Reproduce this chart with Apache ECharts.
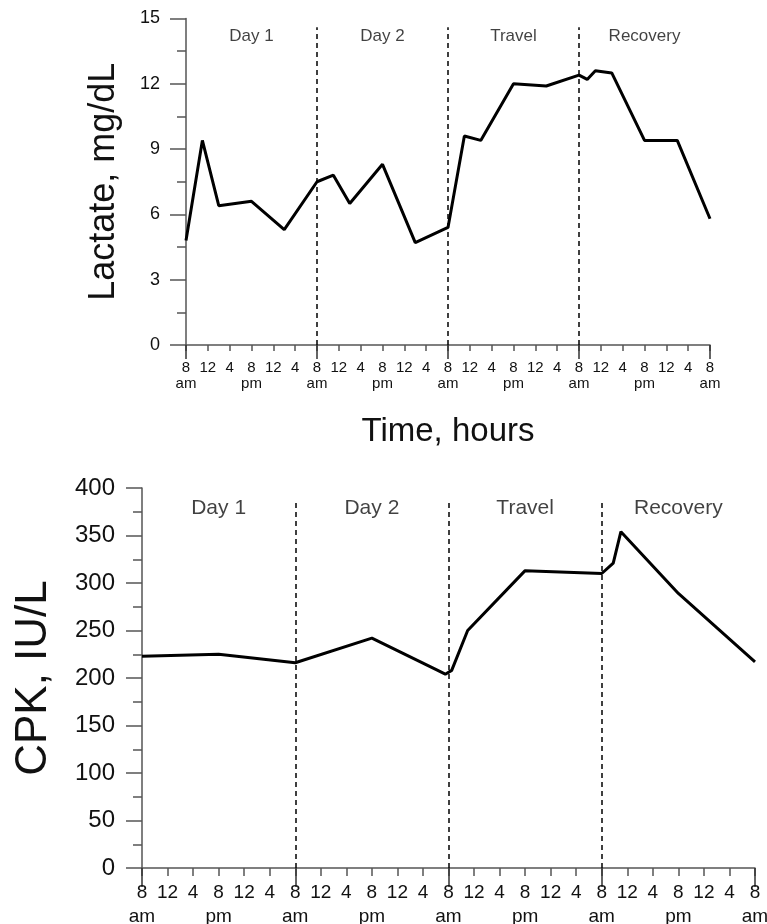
<!DOCTYPE html>
<html>
<head>
<meta charset="utf-8">
<script src="https://cdn.jsdelivr.net/npm/echarts@6/dist/echarts.min.js"></script>
<style>html,body{margin:0;padding:0;background:#fff;}#c{width:767px;height:924px;}</style>
</head>
<body>
<div id="c"></div>
<script>
// ---- data ----
var phaseNames = ['Day 1', 'Day 2', 'Travel', 'Recovery'];
var phaseBounds = [24, 48, 72];
var clockLabels = ['8', '12', '4', '8', '12', '4'];
var meridiem = ['am', '', '', 'pm', '', ''];

var lactateHours  = [0, 3, 6, 12, 18, 24, 27, 30, 36, 42, 48, 51, 54, 60, 66, 72, 73.5, 75, 78, 84, 90, 96];
var lactateValues = [4.8, 9.4, 6.4, 6.6, 5.3, 7.5, 7.8, 6.5, 8.3, 4.7, 5.4, 9.6, 9.4, 12.0, 11.9, 12.4, 12.2, 12.6, 12.5, 9.4, 9.4, 5.8];

var cpkHours  = [0, 12, 24, 36, 46, 47.5, 48.5, 51, 60, 72, 73.8, 75, 84, 96];
var cpkValues = [223, 225, 216, 242, 209, 204, 208, 250, 313, 310, 321, 354, 289, 217];

// ---- build ----
var FONT = '"Liberation Sans", Arial, Helvetica, sans-serif';
var AX = '#555';
function pairs(xs, ys) { return xs.map(function (x, i) { return [x, ys[i]]; }); }
function clockFmt(v) {
  var i = Math.round(v / 4) % 6;
  return meridiem[i] ? clockLabels[i] + '\n' + meridiem[i] : clockLabels[i];
}
function dashLines(top) {
  return phaseBounds.map(function (b) { return [{ coord: [b, 0] }, { coord: [b, top] }]; });
}
function phaseData(y) {
  return phaseNames.map(function (n, i) { return { name: n, value: [i * 24 + 12, y] }; });
}
function xAxes(gi, fs, lh, margin, shortLen, longLen, name) {
  return [{
    type: 'value', gridIndex: gi, min: 0, max: 96, interval: 4, position: 'bottom',
    axisLine: { lineStyle: { color: AX, width: 1.5 } },
    axisTick: { length: shortLen, lineStyle: { color: AX, width: 1.5 } },
    axisLabel: { formatter: clockFmt, fontSize: fs, lineHeight: lh, margin: margin, color: '#111', fontFamily: FONT, showMaxLabel: true, showMinLabel: true },
    splitLine: { show: false },
    name: name, nameLocation: 'middle', nameGap: 70,
    nameTextStyle: { fontSize: 33, color: '#111', fontFamily: FONT }
  }, {
    type: 'value', gridIndex: gi, min: 0, max: 96, interval: 24, position: 'bottom',
    axisLine: { show: false },
    axisTick: { length: longLen, lineStyle: { color: '#333', width: 1.5 } },
    axisLabel: { show: false },
    splitLine: { show: false }
  }];
}
function yAxis(gi, max, interval, fs, margin, name, nameSize, nameGap) {
  return {
    type: 'value', gridIndex: gi, min: 0, max: max, interval: interval,
    axisLine: { show: true, lineStyle: { color: AX, width: 1.5 } },
    axisTick: { show: true, length: 16, lineStyle: { color: AX, width: 1.5 } },
    minorTick: { show: true, splitNumber: 2, length: 9, lineStyle: { color: AX, width: 1.5 } },
    axisLabel: { fontSize: fs, margin: margin, color: '#111', fontFamily: FONT },
    splitLine: { show: false },
    name: name, nameLocation: 'middle', nameGap: nameGap,
    nameTextStyle: { fontSize: nameSize, color: '#111', fontFamily: FONT }
  };
}
function lineSeries(xi, yi, data, top) {
  return {
    type: 'line', xAxisIndex: xi, yAxisIndex: yi, data: data, symbol: 'none', smooth: false,
    lineStyle: { color: '#000', width: 3 }, z: 5, animation: false,
    markLine: {
      silent: true, symbol: 'none', label: { show: false },
      lineStyle: { color: '#000', width: 1.5, type: [5, 4] },
      data: dashLines(top), animation: false
    }
  };
}
function labelSeries(xi, yi, y, fs) {
  return {
    type: 'scatter', xAxisIndex: xi, yAxisIndex: yi, data: phaseData(y), symbolSize: 0, animation: false,
    label: { show: true, position: 'inside', formatter: '{b}', fontSize: fs, color: '#111', fontFamily: FONT }
  };
}

var option = {
  backgroundColor: '#fff',
  animation: false,
  grid: [
    { left: 186, top: 18.5, width: 524, height: 326.5, outerBoundsMode: 'none', containLabel: false },
    { left: 142, top: 488, width: 613, height: 380, outerBoundsMode: 'none', containLabel: false }
  ],
  xAxis: xAxes(0, 15, 16, 15, 6, 14, 'Time, hours').concat(xAxes(1, 19, 24, 13, 8, 19, '')),
  yAxis: [
    yAxis(0, 15, 3, 18, 26, 'Lactate, mg/dL', 36, 64),
    yAxis(1, 400, 50, 24, 27, 'CPK, IU/L', 44, 86)
  ],
  series: [
    lineSeries(0, 0, pairs(lactateHours, lactateValues), 14.6),
    labelSeries(0, 0, 14.17, 17),
    lineSeries(2, 1, pairs(cpkHours, cpkValues), 388),
    labelSeries(2, 1, 379, 21)
  ]
};
var chart = echarts.init(document.getElementById('c'), null, { renderer: 'canvas' });
chart.setOption(option);
</script>
</body>
</html>
